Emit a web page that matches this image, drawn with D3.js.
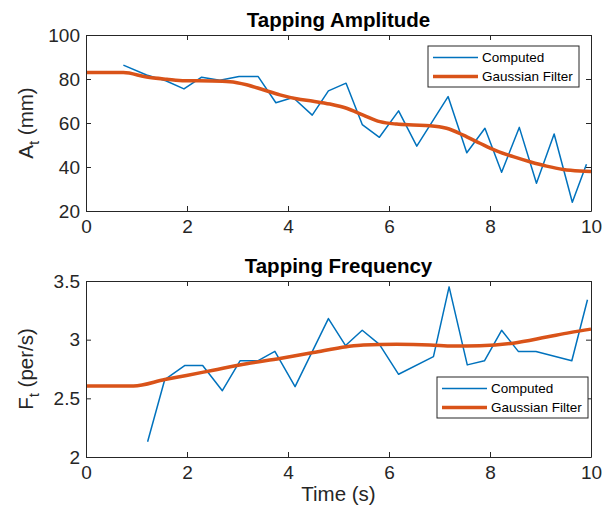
<!DOCTYPE html>
<html>
<head>
<meta charset="utf-8">
<script src="https://cdn.jsdelivr.net/npm/d3@7"></script>
<style>
  body { margin: 0; background: #fff; }
  text { font-family: "Liberation Sans", Arial, sans-serif; }
</style>
</head>
<body>
<div id="chart"></div>
<script>
// data
var ampTime = [0.74, 1.2, 1.58, 1.94, 2.29, 2.65, 3.03, 3.41, 3.76, 4.1, 4.48, 4.8, 5.15, 5.47, 5.81, 6.19, 6.55, 7.17, 7.54, 7.9, 8.23, 8.58, 8.92, 9.27, 9.63, 9.91];
var ampComputed = [86.3, 81.8, 79.2, 75.5, 80.8, 79.4, 81.1, 81.1, 69.2, 71.6, 63.6, 74.6, 78.1, 59.3, 53.5, 65.5, 49.5, 72, 46.5, 57.6, 37.6, 58, 32.6, 55, 24, 41.2];
var ampSmoothTime = [0, 0.74, 1.2, 1.6, 1.96, 2.5, 2.85, 3.18, 3.51, 3.84, 4.17, 4.5, 4.83, 5.16, 5.49, 5.82, 6.15, 6.48, 6.81, 7.14, 7.47, 7.8, 8.13, 8.46, 8.79, 9.12, 9.45, 9.78, 10];
var ampGaussian = [82.9, 82.9, 80.9, 79.9, 79.2, 79.1, 78.8, 77.4, 75.1, 72.8, 71.0, 69.9, 68.6, 66.7, 63.6, 60.6, 59.5, 59.1, 58.8, 57.6, 54.5, 50.8, 47.3, 44.7, 42.4, 40.4, 38.9, 38.2, 38.0];

var freqTime = [1.22, 1.56, 1.96, 2.31, 2.7, 3.05, 3.4, 3.74, 4.14, 4.8, 5.14, 5.47, 5.81, 6.19, 6.88, 7.19, 7.55, 7.89, 8.23, 8.56, 8.91, 9.62, 9.93];
var freqComputed = [2.13, 2.66, 2.78, 2.78, 2.565, 2.82, 2.82, 2.9, 2.6, 3.18, 2.95, 3.08, 2.96, 2.705, 2.855, 3.45, 2.785, 2.82, 3.08, 2.9, 2.9, 2.82, 3.34];
var freqSmoothTime = [0, 0.94, 1.56, 1.99, 2.52, 3.18, 3.84, 4.5, 5.16, 5.49, 6.15, 6.81, 7.27, 7.8, 8.46, 9.12, 9.58, 10];
var freqGaussian = [2.605, 2.605, 2.66, 2.695, 2.74, 2.795, 2.84, 2.89, 2.94, 2.955, 2.96, 2.955, 2.945, 2.948, 2.97, 3.022, 3.06, 3.09];

var xTicks = [0, 2, 4, 6, 8, 10];
var ampTicks = [20, 40, 60, 80, 100];
var freqTicks = [2, 2.5, 3, 3.5];
var legendLabels = ["Computed", "Gaussian Filter"];

var width = 611, height = 517;
var blue = "#0072BD", orange = "#D95319", axisColor = "#262626";

var svg = d3.select("#chart")
    .append("svg")
    .attr("width", width)
    .attr("height", height)
    .style("background-color", "#fff");

var left = 86, right = 591;

// draws one subplot
function drawPanel(opt) {
    var x = d3.scaleLinear().domain([0, 10]).range([left, right]);
    var y = d3.scaleLinear().domain(opt.yDomain).range([opt.bottom, opt.top]);

    var g = svg.append("g");

    // lines
    var lineC = d3.line()
        .x(function (d) { return x(d[0]); })
        .y(function (d) { return y(d[1]); });
    var lineG = d3.line()
        .x(function (d) { return x(d[0]); })
        .y(function (d) { return y(d[1]); })
        .curve(d3.curveMonotoneX);

    g.append("path")
        .datum(d3.zip(opt.time, opt.computed))
        .attr("fill", "none")
        .attr("stroke", blue)
        .attr("stroke-width", 1.5)
        .attr("stroke-linejoin", "round")
        .attr("d", lineC);

    g.append("path")
        .datum(d3.zip(opt.smoothTime, opt.smooth))
        .attr("fill", "none")
        .attr("stroke", orange)
        .attr("stroke-width", 3.5)
        .attr("stroke-linejoin", "round")
        .attr("d", lineG);

    // axes, ticks pointing inwards on all four sides
    var styleAxis = function (sel) {
        sel.attr("color", axisColor);
        sel.select(".domain").attr("stroke-width", 1);
        sel.selectAll("text")
            .style("font-family", "Liberation Sans, Arial, sans-serif")
            .style("font-size", "19px")
            .attr("fill", axisColor);
    };

    g.append("g")
        .attr("transform", "translate(0," + opt.bottom + ")")
        .call(d3.axisBottom(x).tickValues(xTicks).tickSizeInner(-5).tickSizeOuter(0).tickPadding(9))
        .call(styleAxis);
    g.append("g")
        .attr("transform", "translate(0," + opt.top + ")")
        .call(d3.axisTop(x).tickValues(xTicks).tickSizeInner(-5).tickSizeOuter(0).tickFormat(""))
        .call(styleAxis);
    g.append("g")
        .attr("transform", "translate(" + left + ",0)")
        .call(d3.axisLeft(y).tickValues(opt.yTicks).tickSizeInner(-5).tickSizeOuter(0).tickPadding(6).tickFormat(d3.format("")))
        .call(styleAxis);
    g.append("g")
        .attr("transform", "translate(" + right + ",0)")
        .call(d3.axisRight(y).tickValues(opt.yTicks).tickSizeInner(-5).tickSizeOuter(0).tickFormat(""))
        .call(styleAxis);

    // title
    g.append("text")
        .attr("x", (left + right) / 2)
        .attr("y", opt.top - 8)
        .attr("text-anchor", "middle")
        .style("font-size", "20.5px")
        .style("font-weight", "bold")
        .attr("fill", "#000")
        .text(opt.title);

    // y label with subscript
    var yl = g.append("text")
        .attr("transform", "translate(33," + ((opt.top + opt.bottom) / 2) + ") rotate(-90)")
        .attr("text-anchor", "middle")
        .style("font-size", "20.5px")
        .attr("fill", axisColor);
    yl.append("tspan").text(opt.yLabel[0]);
    yl.append("tspan").attr("dy", 6).style("font-size", "15px").text("t");
    yl.append("tspan").attr("dy", -6).text(" " + opt.yLabel[1]);

    // legend
    var lg = g.append("g").attr("transform", "translate(" + opt.legend[0] + "," + opt.legend[1] + ")");
    lg.append("rect")
        .attr("width", 151)
        .attr("height", 41)
        .attr("fill", "#fff")
        .attr("stroke", axisColor)
        .attr("stroke-width", 1);
    var items = lg.selectAll(".item")
        .data(legendLabels)
        .enter()
        .append("g")
        .attr("transform", function (d, i) { return "translate(0," + (11.5 + i * 19) + ")"; });
    items.append("line")
        .attr("x1", 5).attr("x2", 50)
        .attr("stroke", function (d, i) { return i ? orange : blue; })
        .attr("stroke-width", function (d, i) { return i ? 3.5 : 1.5; });
    items.append("text")
        .attr("x", 54)
        .attr("dy", "0.35em")
        .style("font-size", "13.5px")
        .attr("fill", "#000")
        .text(function (d) { return d; });

    return g;
}

drawPanel({
    top: 35, bottom: 211, yDomain: [20, 100], yTicks: ampTicks,
    time: ampTime, computed: ampComputed,
    smoothTime: ampSmoothTime, smooth: ampGaussian,
    title: "Tapping Amplitude", yLabel: ["A", "(mm)"],
    legend: [428, 46]
});

drawPanel({
    top: 281, bottom: 457, yDomain: [2, 3.5], yTicks: freqTicks,
    time: freqTime, computed: freqComputed,
    smoothTime: freqSmoothTime, smooth: freqGaussian,
    title: "Tapping Frequency", yLabel: ["F", "(per/s)"],
    legend: [437, 377]
});

// x label
svg.append("text")
    .attr("x", (left + right) / 2)
    .attr("y", 501)
    .attr("text-anchor", "middle")
    .style("font-size", "20.5px")
    .attr("fill", axisColor)
    .text("Time (s)");
</script>
</body>
</html>
